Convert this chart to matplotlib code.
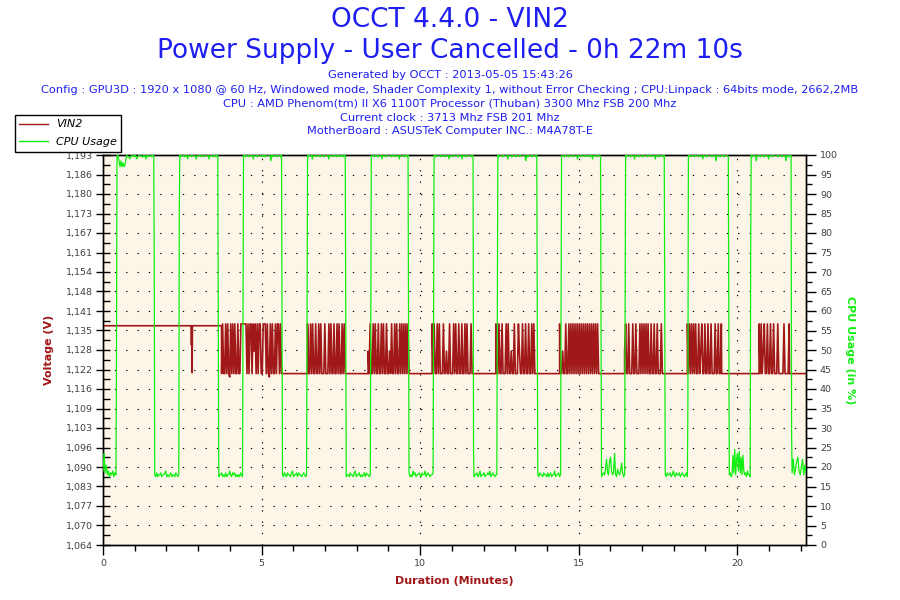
import numpy as np
import matplotlib
matplotlib.use('Agg')
import matplotlib.pyplot as plt
from matplotlib.lines import Line2D
from matplotlib.ticker import FixedLocator, MultipleLocator, FuncFormatter

# ---- data ----
duration_end = 22.17  # 0h 22m 10s

# CPU usage: times (minutes) when the load goes up / down
cpu_rise = [0.41, 2.39, 4.40, 6.42, 8.43, 10.41, 12.42, 14.43, 16.45, 18.43, 20.41]
cpu_fall = [1.60, 3.62, 5.63, 7.64, 9.62, 11.67, 13.68, 15.69, 17.70, 19.72, 21.70]
# single in-between sample on some edges (nan = none)
cpu_rise_mid = [49, 85, np.nan, np.nan, np.nan, np.nan, np.nan, 61.5, np.nan, 37, 76]
cpu_fall_mid = [74, np.nan, np.nan, np.nan, np.nan, 24, np.nan, np.nan, np.nan, np.nan, 29]
# jitter while idle (value = 17.5 + 0.5*hex digit) and while loaded (value = 100 - 0.5*hex digit)
cpu_low_noise = [
    "3c26130213021",
    "1020112011230101201102101",
    "0112010201131021201010210",
    "1021021102301120211012101",
    "0110211023011201012021101",
    "2010312011210211301210112",
    "011201301120112130121011",
    "102110211020120113011201",
    "012149218a312c1042137201",
    "10211201310211201210120",
    "1201b2e19c3d2a1b31203110",
    "29148a3159162",
]
cpu_high_noise = [
    "00363646520112100101210001100201000100",
    "0100010020001000120001000100002000100100",
    "0010001000200010000100100000301000100010",
    "0100020001000100010000200010001000100100",
    "000100010002000100000100010002000010010",
    "0010000100010002000100001000200010000100",
    "0100010000200010001000100000301000100010",
    "0001000100010000200010001000100200010001",
    "0100010002000100010000100010002000100010",
    "0010001000100020001000010003000100010001",
    "0100030001000100020001000010001000300100",
]

# VIN2 voltage levels
v_base_hi = 1.1364
v_base_lo = 1.1206
v_levels = {'H': 1.1370, 'h': 1.1335, 'm': 1.1280, 'L': 1.1206, 'l': 1.1195}
# short dip at ~2.8 min
spike_t = [2.78, 2.79, 2.80, 2.81, 2.82]
spike_v = [1.1364, 1.1300, 1.1364, 1.1209, 1.1364]
# fluctuating bursts (start, end in minutes) and the sample pattern inside
burst_start = [3.74, 6.45, 8.36, 10.38, 12.39, 14.40, 16.45, 18.43, 20.69]
burst_end = [5.63, 7.67, 9.65, 11.64, 13.65, 15.63, 17.64, 19.50, 21.64]
burst_pattern = [
    "LHLLHLHLlHLHLHLLHLLHHHHHHLHLHHLHmHLHLHHLLHHHLHLlHLHLLHLHHLHL",
    "HLLHLHLLHLLHLHLLLHLLLHLHLLHLLHLHLLHLHLL",
    "mLHLLHLHLLHLLHLHLLHLLmLHLLHLHLLHLHLHLHLHL",
    "HLHLLHLHLLLHLLmLLHLLLHLHLLHLLHLLHLHLLLHL",
    "HLLHLLHLLLHLHLLmLLHLLLHmLLHLLHLLHLLHLHLL",
    "HLLmLLHLLHLHLHLHLHLHLHLHLHLHLHLHLHLHLHL",
    "mHLLHLLLHLLHLLLHLHLHLHLHLLHLLHLLHLLLHL",
    "HLHLHLHLHLLHLmHLLHLLHLLHLLLHLLHLLH",
    "HLHLmHLLHLLHLLHLLLHLLLLLHLLLLH",
]

# axis ranges / labels
v_min, v_max = 1.064, 1.19278
x_major = [0, 5, 10, 15, 20]
cpu_ticks = list(range(0, 101, 5))

title_lines = ["OCCT 4.4.0 - VIN2", "Power Supply - User Cancelled - 0h 22m 10s"]
info_lines = [
    "Generated by OCCT : 2013-05-05 15:43:26",
    "Config : GPU3D : 1920 x 1080 @ 60 Hz, Windowed mode, Shader Complexity 1, without Error Checking ; CPU:Linpack : 64bits mode, 2662,2MB",
    "CPU : AMD Phenom(tm) II X6 1100T Processor (Thuban) 3300 Mhz FSB 200 Mhz",
    "Current clock : 3713 Mhz FSB 201 Mhz",
    "MotherBoard : ASUSTeK Computer INC.: M4A78T-E",
]

RED = '#A01818'
GREEN = '#11EE11'
BLUE = '#1E1EF0'
BG = '#FDF6E8'


def build_cpu():
    step = 1 / 32.0
    edges = [0.0] + sorted(cpu_rise + cpu_fall) + [duration_end]
    mids = []
    for r, f in zip(cpu_rise_mid, cpu_fall_mid):
        mids += [r, f]
    t, v = [], []
    for k in range(len(edges) - 1):
        if k > 0 and not np.isnan(mids[k - 1]):
            t.append(edges[k] + step * 0.5)
            v.append(mids[k - 1])
        start = edges[k] + (step if k > 0 else 0.0)
        if k % 2 == 0:
            vals = [17.5 + 0.5 * int(c, 16) for c in cpu_low_noise[k // 2]]
        else:
            vals = [100 - 0.5 * int(c, 16) for c in cpu_high_noise[k // 2]]
        t += list(np.linspace(start, edges[k + 1], len(vals)))
        v += vals
    return t, v


def build_voltage():
    t = [0.0] + spike_t
    v = [v_base_hi] + spike_v
    for i, pat in enumerate(burst_pattern):
        t.append(burst_start[i])
        v.append(v_base_hi if i == 0 else v_base_lo)
        vals = [v_levels[c] for c in pat]
        t += list(np.linspace(burst_start[i], burst_end[i], len(vals)))
        v += vals
        t.append(burst_end[i] + 0.01)
        v.append(v_base_lo)
    t.append(duration_end)
    v.append(v_base_lo)
    return t, v


fig = plt.figure(figsize=(9, 6), dpi=100)
fig.patch.set_facecolor('white')
ax = fig.add_axes([103 / 900, 1 - 545 / 600, 703 / 900, 390 / 600])
ax.set_facecolor(BG)
ax2 = ax.twinx()

vt, vv = build_voltage()
ct, cv = build_cpu()
ax.plot(vt, vv, color=RED, lw=1.2, zorder=3)
ax2.plot(ct, cv, color=GREEN, lw=0.9, zorder=3)

ax.set_xlim(0, duration_end)
ax.set_ylim(v_min, v_max)
ax2.set_ylim(0, 100)

ax.xaxis.set_major_locator(FixedLocator(x_major))
ax.xaxis.set_minor_locator(MultipleLocator(1))
ax.yaxis.set_major_locator(FixedLocator(np.linspace(v_min, v_max, 21)))
ax.yaxis.set_minor_locator(FixedLocator(np.linspace(v_min, v_max, 41)))
ax.yaxis.set_major_formatter(FuncFormatter(lambda y, p: f'{y:.3f}'.replace('.', ',')))
ax2.yaxis.set_major_locator(FixedLocator(cpu_ticks))
ax2.yaxis.set_minor_locator(MultipleLocator(2.5))

tick_color = '#404040'
ax.tick_params(axis='y', which='major', direction='inout', length=10, width=1, labelsize=6.8, labelcolor=tick_color, pad=2)
ax.tick_params(axis='y', which='minor', direction='in', length=5, width=1)
ax.tick_params(axis='x', which='major', direction='out', length=7, width=1, labelsize=6.8, labelcolor=tick_color, pad=3)
ax.tick_params(axis='x', which='minor', direction='out', length=4, width=1)
ax2.tick_params(axis='y', which='major', direction='out', length=7, width=1, labelsize=6.8, labelcolor=tick_color, pad=3)
ax2.tick_params(axis='y', which='minor', direction='out', length=4, width=1)

for a in (ax, ax2):
    for s in a.spines.values():
        s.set_color('black')
        s.set_linewidth(1)

dots = (0, (1.2, 9))
for y in np.linspace(v_min, v_max, 21)[1:-1]:
    ax.axhline(y, color='black', lw=0.8, ls=dots, zorder=1)
for x in x_major[1:]:
    ax.axvline(x, color='black', lw=0.8, ls=dots, zorder=1)

ax.set_ylabel('Voltage (V)', color=RED, fontsize=8, fontweight='bold', labelpad=9)
ax2.set_ylabel('CPU Usage (in %)', color=GREEN, fontsize=8, fontweight='bold', rotation=270, labelpad=12)
ax.set_xlabel('Duration (Minutes)', color=RED, fontsize=8, fontweight='bold', labelpad=6)

fig.text(0.5, 1 - 20 / 600, title_lines[0], ha='center', va='center', color=BLUE, fontsize=19)
fig.text(0.5, 1 - 51 / 600, title_lines[1], ha='center', va='center', color=BLUE, fontsize=19)
for y, line in zip([75, 90, 104, 118, 131], info_lines):
    fig.text(0.5, 1 - y / 600, line, ha='center', va='center', color=BLUE, fontsize=8.2)

handles = [Line2D([], [], color=RED, lw=1), Line2D([], [], color=GREEN, lw=1)]
leg = fig.legend(handles, ['VIN2', 'CPU Usage'], loc='upper left',
                 bbox_to_anchor=(15 / 900, 1 - 115 / 600), fancybox=False,
                 framealpha=1, edgecolor='black', prop={'size': 8, 'style': 'italic'},
                 handlelength=2.6, borderpad=0.4, labelspacing=0.7, handletextpad=0.7,
                 borderaxespad=0)
leg.get_frame().set_linewidth(1)

fig.savefig('out.png', dpi=100)
